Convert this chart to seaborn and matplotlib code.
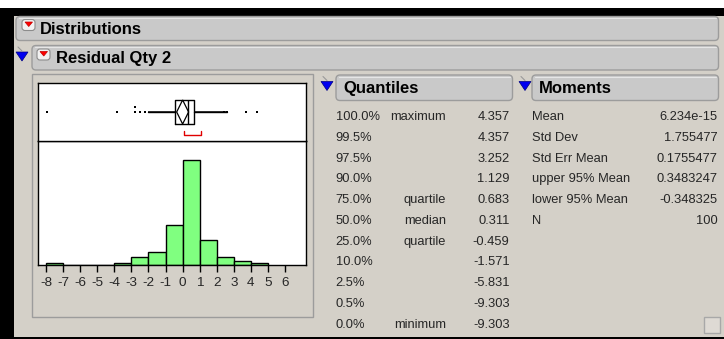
import numpy as np
import pandas as pd
import matplotlib
matplotlib.use("Agg")
import matplotlib.pyplot as plt
from matplotlib.patches import FancyBboxPatch, Rectangle, Polygon
import seaborn as sns

sns.set_style("white")
plt.rcParams["font.family"] = ["Liberation Sans", "DejaVu Sans"]
plt.rcParams["axes.unicode_minus"] = False

# ---- data -------------------------------------------------------------
bin_starts = [-8, -4, -3, -2, -1, 0, 1, 2, 3, 4]
bin_counts = [1, 1, 4, 6, 19, 50, 12, 4, 2, 1]
axis_ticks = [-8, -7, -6, -5, -4, -3, -2, -1, 0, 1, 2, 3, 4, 5, 6]

q_percent = ["100.0%", "99.5%", "97.5%", "90.0%", "75.0%", "50.0%",
             "25.0%", "10.0%", "2.5%", "0.5%", "0.0%"]
q_name = ["maximum", "", "", "", "quartile", "median", "quartile",
          "", "", "", "minimum"]
q_value = [4.357, 4.357, 3.252, 1.129, 0.683, 0.311, -0.459,
           -1.571, -5.831, -9.303, -9.303]

m_name = ["Mean", "Std Dev", "Std Err Mean", "upper 95% Mean",
          "lower 95% Mean", "N"]
m_value = [6.234e-15, 1.755477, 0.1755477, 0.3483247, -0.348325, 100]

whisker_low = -2.0
whisker_high = 2.58
outliers_x = [-7.93, -3.86, -2.80, -2.80, -2.50, -2.22, 2.45, 2.60, 3.70, 4.38]
outliers_row = [0, 0, 1, 0, 0, 0, 0, 0, 0, 0]
shortest_half = [0.08, 1.10]

# ---- figure -----------------------------------------------------------
W, H = 724, 339
BG = "#d4d0c8"
HEAD = "#c9c9c9"
HEAD_EDGE = "#9c9c9c"
fig = plt.figure(figsize=(W / 100, H / 100), dpi=100, facecolor=BG)


def px_axes(x0, y0, x1, y1, **kw):
    return fig.add_axes([x0 / W, 1 - y1 / H, (x1 - x0) / W, (y1 - y0) / H], **kw)


bg = px_axes(0, 0, W, H)
bg.set_xlim(0, W)
bg.set_ylim(H, 0)
bg.axis("off")
bg.set_zorder(0)

# window frame
bg.add_patch(Rectangle((0, 0), W, 8, color="white", lw=0))
bg.add_patch(Rectangle((0, 8), W, 8, color="black", lw=0))
bg.add_patch(Rectangle((0, 8), 14, H - 8, color="black", lw=0))
bg.add_patch(Rectangle((0, 337), W, 2, color="black", lw=0))


def header(x0, y0, x1, y1, label, tx, ty, red=None):
    bg.add_patch(FancyBboxPatch((x0, y0), x1 - x0, y1 - y0,
                                boxstyle="round,pad=0,rounding_size=4",
                                fc=HEAD, ec=HEAD_EDGE, lw=1.0))
    bg.plot([x0 + 3, x1 - 3], [y0 + 1.5, y0 + 1.5], color="#e6e6e6", lw=0.8)
    if red is not None:
        rx, ry = red
        bg.add_patch(FancyBboxPatch((rx, ry), 13, 11,
                                    boxstyle="round,pad=0,rounding_size=3",
                                    fc="#f2f2f2", ec="#8c8c8c", lw=0.8))
        bg.add_patch(Polygon([(rx + 3, ry + 2.5), (rx + 10.5, ry + 2.5),
                              (rx + 6.75, ry + 7)], closed=True,
                             fc="#ff0000", ec="#c00000", lw=0.5))
    bg.text(tx, ty, label, fontsize=12, fontweight="bold", color="black",
            va="baseline", ha="left")


def blue_tri(x0, y0):
    bg.plot([x0 + 2, x0 + 6], [y0 - 5, y0 - 1], color="#9a9a9a", lw=0.8)
    bg.add_patch(Polygon([(x0, y0), (x0 + 12, y0), (x0 + 6, y0 + 9)],
                         closed=True, fc="#0000f0", ec="#000080", lw=0.5))


header(16, 16.5, 718.5, 40.5, "Distributions", 40, 34.3, red=(22, 19.5))
header(32, 45.5, 718.5, 70, "Residual Qty 2", 55.7, 63.3, red=(37, 49))
blue_tri(16, 52)

# plot frame
bg.add_patch(Rectangle((31.7, 74), 281, 242.7, fc=BG, ec="#9c9c9c", lw=1.0))

# quantiles table
header(336, 75, 512.5, 100.5, "Quantiles", 343, 93.3)
blue_tri(321, 81.5)
row0, step = 116.0, 20.72
body = 9.3
for i, (p, n, v) in enumerate(zip(q_percent, q_name, q_value)):
    yb = row0 + i * step + 4.3
    bg.text(335.7, yb, p, fontsize=body, ha="left", va="baseline")
    if n:
        bg.text(446, yb, n, fontsize=body, ha="right", va="baseline")
    bg.text(509.5, yb, f"{v:.3f}", fontsize=body, ha="right", va="baseline")

# moments table
header(532, 75, 718.5, 100.5, "Moments", 539, 93.0)
blue_tri(519, 81.5)
for i, (n, v) in enumerate(zip(m_name, m_value)):
    yb = row0 + i * step + 4.3
    bg.text(532.3, yb, n, fontsize=body, ha="left", va="baseline")
    bg.text(717.5, yb, f"{v:.7g}", fontsize=body, ha="right", va="baseline")

# resize corner
bg.add_patch(Rectangle((704, 317), 16, 16, fc="#dedad4", ec="#a8a8a8", lw=1.0))

# ---- histogram --------------------------------------------------------
x_lo, x_hi = -8.49, 7.21
edges = [float(e) for e in range(-8, 6)]
hist_df = pd.DataFrame({"center": [b + 0.5 for b in bin_starts],
                        "count": bin_counts})

ax_h = px_axes(37.7, 141.3, 305.7, 265)
ax_h.set_zorder(2)
sns.histplot(data=hist_df, x="center", weights="count", bins=edges, ax=ax_h,
             color="#80ff80", edgecolor="black", linewidth=1.0, alpha=1.0)
ax_h.set_xlim(x_lo, x_hi)
ax_h.set_ylim(0, 58.9)
ax_h.set_facecolor("white")
ax_h.set_xticks(axis_ticks)
ax_h.set_xticklabels([str(t) for t in axis_ticks])
ax_h.set_yticks([])
ax_h.set_xlabel("")
ax_h.set_ylabel("")
ax_h.tick_params(axis="x", direction="out", length=5.2, width=1.0,
                 color="black", labelsize=9.7, pad=3.5, bottom=True)
for s in ax_h.spines.values():
    s.set_visible(True)
    s.set_color("black")
    s.set_linewidth(1.0)

# ---- outlier box plot -------------------------------------------------
ax_b = px_axes(37.7, 82.7, 305.7, 141.3)
ax_b.set_zorder(2)
ax_b.set_facecolor("white")
q1, med, q3 = q_value[6], q_value[5], q_value[4]
ax_b.bxp([{"med": med, "q1": q1, "q3": q3, "whislo": whisker_low,
           "whishi": whisker_high, "fliers": []}],
         positions=[0.5], widths=0.41, orientation="horizontal",
         showcaps=False, showfliers=False,
         boxprops=dict(color="black", lw=1.0),
         whiskerprops=dict(color="black", lw=1.0),
         medianprops=dict(color="black", lw=1.0))
# whisker lines from the box edges out to the whisker ends
ax_b.plot([whisker_low, q1], [0.5, 0.5], color="black", lw=1.1,
          solid_capstyle="butt")
ax_b.plot([q3, whisker_high], [0.5, 0.5], color="black", lw=1.1,
          solid_capstyle="butt")
# mean confidence diamond
lo95, hi95, mean = m_value[4], m_value[3], m_value[0]
ax_b.add_patch(Polygon([(lo95, 0.5), (mean, 0.705), (hi95, 0.5), (mean, 0.295)],
                       closed=True, fill=False, ec="black", lw=0.9))
ax_b.scatter(outliers_x, [0.5 + 0.08 * r for r in outliers_row],
             s=3.5, marker="s", color="black", lw=0, zorder=4)
a, b = shortest_half
ax_b.plot([a, a, b, b], [0.18, 0.10, 0.10, 0.18], color="#e00000", lw=1.0)
ax_b.set_xlim(x_lo, x_hi)
ax_b.set_ylim(0, 1)
ax_b.set_xticks([])
ax_b.set_yticks([])
for s in ax_b.spines.values():
    s.set_visible(True)
    s.set_color("black")
    s.set_linewidth(1.0)

fig.savefig("out.png", dpi=100, facecolor=BG)
